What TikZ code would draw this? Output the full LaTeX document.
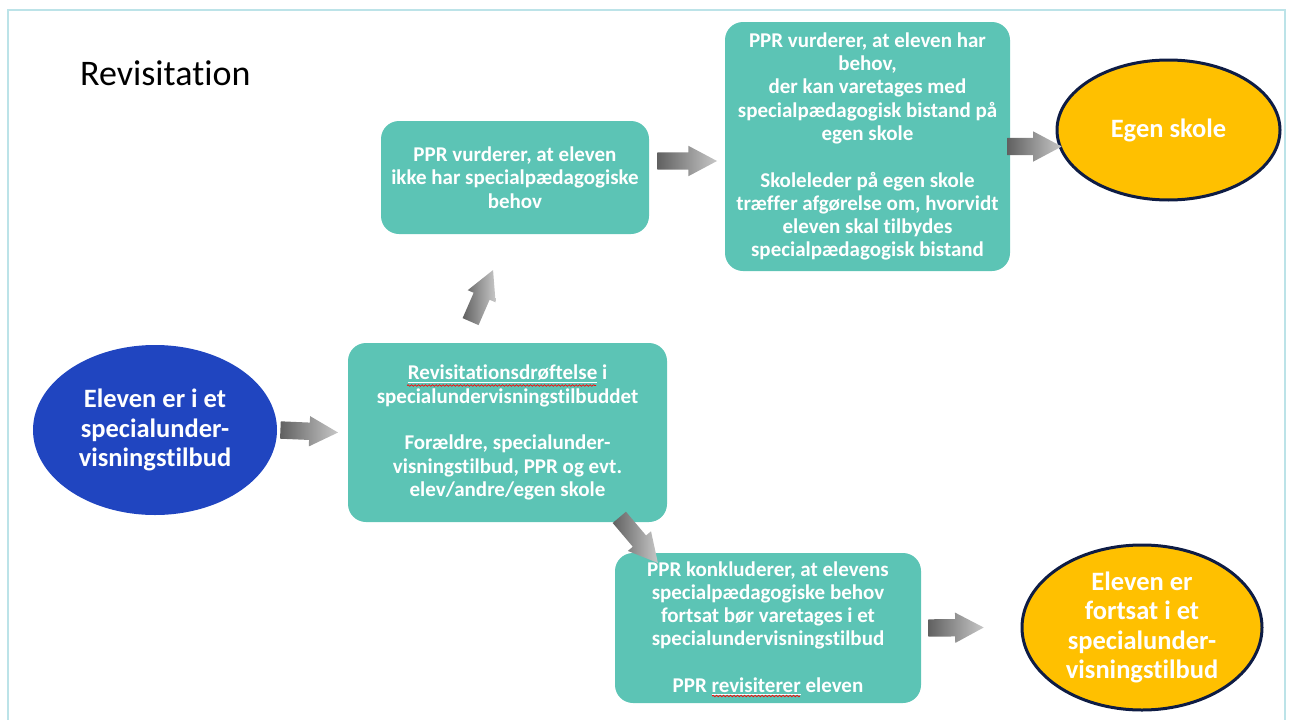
\documentclass[tikz,border=0pt]{standalone}
\usepackage{fontspec}
\setmainfont{Carlito}[Ligatures=NoCommon]
\usetikzlibrary{shapes.geometric, shapes.arrows, calc, decorations.pathmorphing}

\definecolor{tealbox}{RGB}{92,196,181}
\definecolor{blueblob}{RGB}{32,69,192}
\definecolor{goldblob}{RGB}{255,192,0}
\definecolor{navyrim}{RGB}{14,28,68}
\definecolor{framecol}{RGB}{188,227,232}

% grey block arrow between two points
\newcommand\garrow[2]{%
  \path let \p1=(#1), \p2=(#2),
        \n1={atan2(\y2-\y1,\x2-\x1)}, \n2={veclen(\x2-\x1,\y2-\y1)} in
    node[blockarrow, rotate=\n1, minimum height=\n2, anchor=tail] at (\p1) {};}

\begin{document}
\begin{tikzpicture}[x=1pt, y=-1pt,
    box/.style={rectangle, rounded corners=18pt, fill=tealbox, text=white,
      align=center, inner sep=0pt, font=\bfseries\fontsize{21}{23.3}\selectfont},
    blob/.style={ellipse, inner sep=0pt, text=white, align=center,
      font=\bfseries\fontsize{26.5}{29.5}\selectfont},
    blockarrow/.style={single arrow, draw=none, inner xsep=0pt, inner ysep=8.5pt,
      minimum width=30pt, single arrow head extend=6.5pt, single arrow tip angle=56,
      left color=black!62, right color=black!22},
    spellwave/.style={red, line width=0.7pt, decorate,
      decoration={snake, amplitude=0.8pt, segment length=3.5pt}}]
    \useasboundingbox (0,0) rectangle (1291,720);
    \draw[framecol, line width=2.5pt] (8,730) -- (8,10) -- (1285,10) -- (1285,730);

    \node[anchor=base west, inner sep=0pt, font=\fontsize{36}{40}\selectfont] (title) at (80,85) {Revisitation};

    % Boxes
    \node[blob, fill=blueblob, minimum width=244pt, minimum height=170pt] (pupil) at (155,430)
      {Eleven er i et\\ specialunder-\\ visningstilbud};
    \node[box, minimum width=319pt, minimum height=179pt] (disc) at (507.5,432.5)
      {\underline{Revisitationsdrøftelse} i\\ specialundervisningstilbuddet\\[23.3pt]
       Forældre, specialunder-\\ visningstilbud, PPR og evt.\\ elev/andre/egen skole};
    \node[box, minimum width=268pt, minimum height=113pt] (noneed) at (515,177.5)
      {PPR vurderer, at eleven\\ ikke har specialpædagogiske\\ behov};
    \node[box, minimum width=285pt, minimum height=249pt] (ownneed) at (867.5,146.5)
      {PPR vurderer, at eleven har\\ behov,\\ der kan varetages med\\ specialpædagogisk bistand på\\ egen skole\\[23.3pt]
       Skoleleder på egen skole\\ træffer afgørelse om, hvorvidt\\ eleven skal tilbydes\\ specialpædagogisk bistand};
    \node[blob, fill=goldblob, draw=navyrim, line width=3pt, minimum width=223pt, minimum height=140pt]
      (ownschool) at (1168.5,130) {Egen skole};
    \node[box, minimum width=306pt, minimum height=150pt] (keep) at (768,628)
      {PPR konkluderer, at elevens\\ specialpædagogiske behov\\ fortsat bør varetages i et\\ specialundervisningstilbud\\[23.3pt]
       PPR \underline{revisiterer} eleven};
    \node[blob, fill=goldblob, draw=navyrim, line width=3pt, minimum width=240pt, minimum height=165pt]
      (stay) at (1142,627.5) {Eleven er\\ fortsat i et\\ specialunder-\\ visningstilbud};

    % Spelling marks
    \draw[spellwave] ([shift={(-100.5,-47)}]disc.center) -- ++(189,0);
    \draw[spellwave] ([shift={(-56,68)}]keep.center) -- ++(88,0);

    % Arrows
    \garrow{[xshift=3pt]pupil.east}{[xshift=-10pt]disc.west}
    \garrow{[shift={(-37,-21)}]disc.north}{[shift={(-22,36)}]noneed.south}
    \garrow{[shift={(8,-16.5)}]noneed.east}{[shift={(-8,14.5)}]ownneed.west}
    \garrow{[xshift=-3pt]ownneed.east}{[shift={(6,16.5)}]ownschool.west}
    \garrow{[shift={(-48,-5)}]disc.south east}{[shift={(43,10)}]keep.north west}
    \garrow{[xshift=7pt]keep.east}{[xshift=-37pt]stay.west}
\end{tikzpicture}
\end{document}
